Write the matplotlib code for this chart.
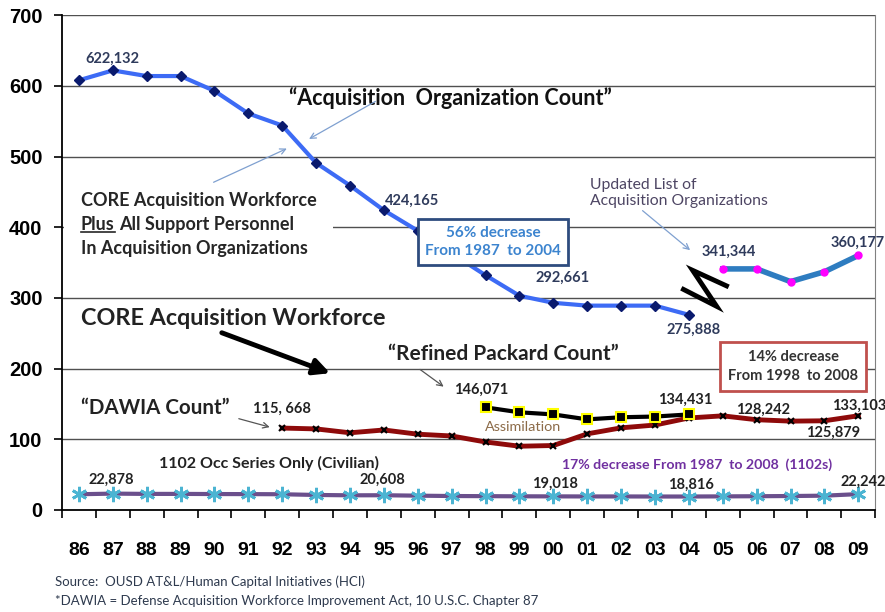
import numpy as np
import matplotlib
matplotlib.use("Agg")
import matplotlib.pyplot as plt
from matplotlib.patches import FancyArrowPatch

# ---- data (thousands of people) ----
years = ["86", "87", "88", "89", "90", "91", "92", "93", "94", "95", "96", "97",
         "98", "99", "00", "01", "02", "03", "04", "05", "06", "07", "08", "09"]

acq_org = [608, 622, 614, 614, 593, 561, 544, 491, 459, 424, 395, 363,
           332, 303, 293, 289, 289, 289, 276]                       # 86-04
acq_org_new = [341, 341, 323, 337, 360]                            # 05-09
packard = [145, 138, 135, 128, 131, 132, 135]                      # 98-04
dawia = [115.7, 114.5, 109, 113, 107, 104.5, 96, 90, 91, 107.5, 116,
         120, 130, 133, 127.5, 125.5, 126, 133.1]                  # 92-09
occ1102 = [22, 22.9, 22.5, 22.5, 22.3, 22.2, 22, 21, 20.5, 20.6, 20, 19.5,
           19.3, 19.1, 19.0, 18.9, 18.9, 18.8, 18.8, 19, 19.2, 19.5, 20, 22.2]

x_all = np.arange(len(years))
x_org = x_all[:19]
x_new = x_all[19:]
x_pack = x_all[12:19]
x_dawia = x_all[6:]

plt.rcParams['font.family'] = ['Lato', 'DejaVu Sans']

fig = plt.figure(figsize=(8.85, 6.12), dpi=100)
ax = fig.add_axes([0.070, 0.167, 0.919, 0.808])

# gridlines
for v in range(100, 701, 100):
    ax.axhline(v, color='#505050', lw=1.0, zorder=0)

# ---- series ----
ax.plot(x_org, acq_org, color='#3D6BF5', lw=3, marker='D', ms=5,
        mfc='#0A1A6E', mec='#0A1A6E', zorder=4)
ax.plot(x_new, acq_org_new, color='#2E7CC0', lw=4, marker='o', ms=5,
        mfc='#FF00FF', mec='#FF00FF', zorder=4)
ax.plot(x_dawia, dawia, color='#8E0A0A', lw=3.5, marker='x', ms=5,
        mec='black', mew=1.5, zorder=4)
ax.plot(x_pack, packard, color='black', lw=3, marker='s', ms=7,
        mfc='black', mec='#FFFF00', mew=1.5, zorder=5)
ax.plot(x_all, occ1102, color='#6B4F8C', lw=3, marker=(6, 2, 0), ms=11,
        mec='#4BB4D2', mew=2, zorder=4)

# ---- axes ----
ax.set_xlim(-0.5, 23.5)
ax.set_ylim(0, 700)
ax.set_yticks(range(0, 701, 100))
ax.set_yticklabels([str(v) for v in range(0, 701, 100)],
                   fontfamily='Liberation Sans', fontweight='bold', fontsize=14.5)
ax.tick_params(axis='y', length=6, width=1.2, pad=8)
ax.set_xticks(x_all)
ax.set_xticklabels(years, fontfamily='Liberation Sans', fontweight='bold',
                   fontsize=14)
ax.set_xticks(np.arange(-0.5, 23.6, 1), minor=True)
ax.tick_params(axis='x', which='major', length=0, pad=23)
ax.tick_params(axis='x', which='minor', length=6, width=1.2)
for s in ['left', 'bottom']:
    ax.spines[s].set_color('black')
    ax.spines[s].set_linewidth(1.3)
ax.spines['top'].set_visible(False)
ax.spines['right'].set_color('#808080')

lab_up = '#2F3B5C'
lab_lo = '#222222'


def lab(x, y, s, color=lab_lo, size=10.5, **kw):
    return ax.text(x, y, s, color=color, fontsize=size, fontweight='bold',
                   ha='center', va='center', zorder=6, **kw)


def arrow(p0, p1, color='#7FA0D0', lw=0.9, ms=10):
    ax.add_patch(FancyArrowPatch(p0, p1, arrowstyle='->', mutation_scale=ms,
                                 color=color, lw=lw, zorder=6))


# upper annotations
lab(1.0, 638, "622,132", lab_up)
lab(9.82, 438, "424,165", lab_up)
lab(14.26, 328, "292,661", lab_up)
lab(18.14, 255, "275,888", lab_up)
lab(19.17, 365, "341,344", lab_up)
lab(22.99, 378, "360,177", lab_up)

ax.text(6.21, 583, "\u201cAcquisition  Organization Count\u201d", fontsize=15.5,
        fontweight='bold', color='#111111', ha='left', va='center')
arrow((8.82, 580), (6.72, 523))
arrow((3.9, 462), (6.21, 513))

# white backing that hides the 400 gridline behind the text block
ax.axhspan(355, 452, xmin=0.002, xmax=0.333, color='white', lw=0, zorder=1)
core_kw = dict(fontsize=13, fontweight='bold', color='#262626', ha='left',
               va='center', zorder=3)
ax.text(0.06, 438, "CORE Acquisition Workforce", **core_kw)
plus = ax.text(0.06, 404, "Plus", **core_kw)
ax.text(0.06, 370, "In Acquisition Organizations", **core_kw)

ax.text(12.22, 379, "56% decrease\nFrom 1987  to 2004", fontsize=11,
        fontweight='bold', color='#3C84CF', ha='center', va='center',
        linespacing=1.35, zorder=7,
        bbox=dict(facecolor='white', edgecolor='#2E4C7E', lw=2,
                  boxstyle='square,pad=0.45'))

ax.text(15.09, 448, "Updated List of\nAcquisition Organizations", fontsize=11.3,
        color='#4D4563', ha='left', va='center', linespacing=1.2)
arrow((16.57, 426), (18.1, 365))

# break mark
brk_x = [19.11, 18.11, 18.82, 17.84]
brk_y = [317, 339, 288, 312]
ax.plot(brk_x, brk_y, color='black', lw=3.5, solid_joinstyle='miter', zorder=6)

# lower annotations
ax.text(0.06, 271, "CORE Acquisition Workforce", fontsize=16.8,
        fontweight='bold', color='#222222', ha='left', va='center')
ax.add_patch(FancyArrowPatch((4.14, 252), (7.49, 192), arrowstyle='-|>',
                             mutation_scale=24, color='black', lw=3.5, zorder=6))

ax.text(9.11, 221, "\u201cRefined Packard Count\u201d", fontsize=15,
        fontweight='bold', color='#222222', ha='left', va='center')
arrow((10.0, 201), (10.83, 172), color='#555555')
lab(11.86, 170, "146,071")
lab(17.9, 156, "134,431")
ax.text(11.98, 117, "Assimilation", fontsize=10.4, color='#8C6B48',
        ha='left', va='center', zorder=6)

ax.text(21.08, 203, "14% decrease\nFrom 1998  to 2008", fontsize=10.5,
        fontweight='bold', color='#333333', ha='center', va='center',
        linespacing=1.4, zorder=7,
        bbox=dict(facecolor='white', edgecolor='#C0504D', lw=2,
                  boxstyle='square,pad=0.55'))
lab(20.2, 141, "128,242")
lab(22.25, 109, "125,879")
lab(23.02, 147, "133,103")

ax.text(0.06, 144, "\u201cDAWIA Count\u201d", fontsize=14.8, fontweight='bold',
        color='#222222', ha='left', va='center')
lab(6.0, 143, "115, 668")
arrow((4.64, 130), (5.71, 116), color='#555555')

lab(5.62, 66, "1102 Occ Series Only (Civilian)", size=11.5)
lab(0.95, 42, "22,878")
lab(8.96, 42, "20,608")
lab(14.05, 37, "19,018")
lab(18.05, 35, "18,816")
lab(23.14, 40, "22,242")
lab(18.25, 64, "17% decrease From 1987  to 2008  (1102s)", color='#7030A0', size=10.2)

# footnotes
fig.text(55 / 885, 1 - 582 / 612,
         "Source:  OUSD AT&L/Human Capital Initiatives (HCI)",
         fontsize=9.5, color='#2E3A4E', ha='left', va='center')
fig.text(55 / 885, 1 - 601 / 612,
         "*DAWIA = Defense Acquisition Workforce Improvement Act, 10 U.S.C. Chapter 87",
         fontsize=9.5, color='#2E3A4E', ha='left', va='center')

# underline "Plus" and continue the line of text after it
fig.canvas.draw()
bb = plus.get_window_extent().transformed(ax.transData.inverted())
ax.plot([bb.x0, bb.x1], [bb.y0 + 1.5, bb.y0 + 1.5], color='#262626', lw=1.2, zorder=3)
ax.text(bb.x1 + 0.12, 404, "All Support Personnel", **core_kw)

fig.savefig("out.png", dpi=100)
